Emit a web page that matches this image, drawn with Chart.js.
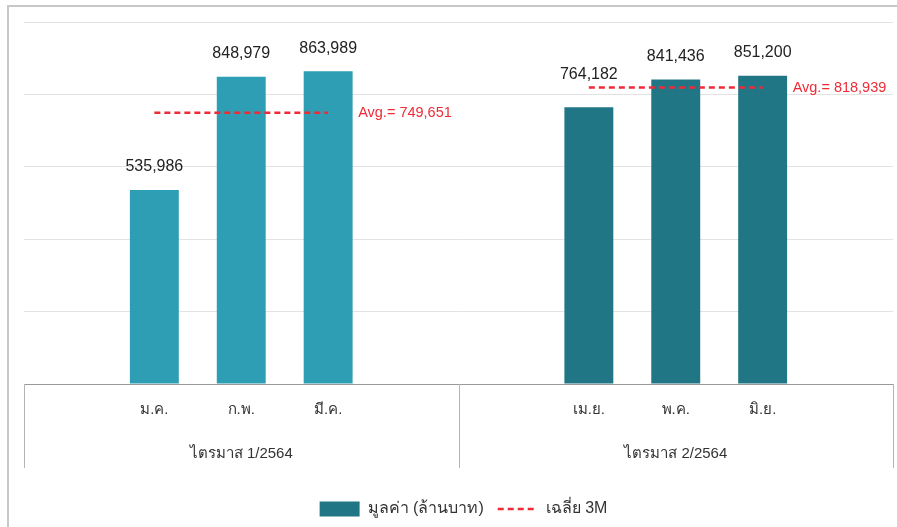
<!DOCTYPE html>
<html>
<head>
<meta charset="utf-8">
<script src="https://cdn.jsdelivr.net/npm/chart.js@4"></script>
<style>
  html, body { margin: 0; padding: 0; background: #fff; }
  #wrap { position: relative; width: 897px; height: 527px; overflow: hidden; }
  #frame { position: absolute; left: 7px; top: 5px; width: 1000px; height: 1000px;
           border-left: 2px solid #c8c8c8; border-top: 2px solid #c8c8c8; }
  canvas { position: absolute; left: 0; top: 0; }
</style>
</head>
<body>
<div id="wrap">
  <div id="frame"></div>
  <canvas id="c" width="897" height="527"></canvas>
</div>
<script>
// ---- data ----
const categories = ['', 'ม.ค.', 'ก.พ.', 'มี.ค.', '', '', 'เม.ย.', 'พ.ค.', 'มิ.ย.', ''];
const quarters = ['ไตรมาส 1/2564', 'ไตรมาส 2/2564'];
const values = [null, 535986, 848979, 863989, null, null, 764182, 841436, 851200, null];
const avgQ1 = [null, 749651, 749651, 749651, null, null, null, null, null, null];
const avgQ2 = [null, null, null, null, null, null, 818939, 818939, 818939, null];
const avgTexts = ['Avg.= 749,651', 'Avg.= 818,939'];
const seriesName = 'มูลค่า (ล้านบาท)';
const avgName = 'เฉลี่ย 3M';
const yTicks = [0, 200000, 400000, 600000, 800000, 1000000];

const colQ1 = '#2e9eb4';
const colQ2 = '#217686';
const red = '#ee2b36';
const barColors = categories.map((c, i) => i < 5 ? colQ1 : colQ2);

const FONT = '"Liberation Sans", Arial, sans-serif';

const labelsPlugin = {
  id: 'labels',
  afterLayout(chart) {
    if (chart.legend) { chart.legend.left += 5; chart.legend.right += 5; }
  },
  afterDatasetsDraw(chart) {
    const ctx = chart.ctx;
    ctx.save();
    const meta = chart.getDatasetMeta(0);
    const avgMetas = [chart.getDatasetMeta(1), chart.getDatasetMeta(2)];
    ctx.font = '16px ' + FONT;
    ctx.fillStyle = '#222';
    ctx.textAlign = 'center';
    ctx.textBaseline = 'middle';
    meta.data.forEach((bar, i) => {
      const v = values[i];
      if (v == null) return;
      let y = bar.y - 23;
      avgMetas.forEach(m => {
        const p = m.data[i];
        if (p && chart.data.datasets[m.index].data[i] != null) {
          if (Math.abs(y - p.y) < 13) y = p.y - 13;
        }
      });
      ctx.fillText(v.toLocaleString('en-US'), bar.x, y);
    });
    ctx.font = '14.5px ' + FONT;
    ctx.fillStyle = red;
    ctx.textAlign = 'left';
    [1, 2].forEach((di, k) => {
      const m = chart.getDatasetMeta(di);
      const data = chart.data.datasets[di].data;
      let last = -1;
      data.forEach((v, i) => { if (v != null) last = i; });
      const p = m.data[last];
      ctx.fillText(avgTexts[k], p.x + 30, p.y);
    });
    ctx.restore();
  },
  afterDraw(chart) {
    const ctx = chart.ctx;
    const x = chart.scales.x;
    const xs = [x.left, (x.getPixelForValue(4) + x.getPixelForValue(5)) / 2, x.right];
    ctx.save();
    ctx.strokeStyle = '#b4b4b4';
    ctx.lineWidth = 1;
    xs.forEach(px => {
      const xx = Math.round(px) + 0.5;
      ctx.beginPath();
      ctx.moveTo(xx, chart.chartArea.bottom);
      ctx.lineTo(xx, chart.chartArea.bottom + 84);
      ctx.stroke();
    });
    ctx.restore();
  }
};

new Chart(document.getElementById('c'), {
  data: {
    labels: categories,
    datasets: [
      {
        type: 'bar', label: seriesName, data: values,
        backgroundColor: barColors, categoryPercentage: 1, barPercentage: 0.563,
        order: 2
      },
      {
        type: 'line', label: avgName, data: avgQ1,
        borderColor: red, borderWidth: 2.5, borderDash: [6, 4], pointRadius: 0,
        fill: false, order: 1
      },
      {
        type: 'line', label: avgName + ' Q2', data: avgQ2,
        borderColor: red, borderWidth: 2.5, borderDash: [6, 4], pointRadius: 0,
        fill: false, order: 1
      }
    ]
  },
  options: {
    responsive: false,
    animation: false,
    devicePixelRatio: 1,
    layout: { padding: { left: 24, right: 4, top: 22, bottom: 0 } },
    plugins: {
      tooltip: { enabled: false },
      legend: {
        position: 'bottom',
        labels: {
          font: { size: 16, family: FONT },
          color: '#333',
          usePointStyle: true,
          pointStyleWidth: 40,
          boxHeight: 15,
          padding: 14,
          generateLabels() {
            return [
              { text: seriesName, fillStyle: colQ2, strokeStyle: colQ2, lineWidth: 0,
                pointStyle: 'rect', datasetIndex: 0, fontColor: '#333' },
              { text: avgName, fillStyle: red, strokeStyle: red, lineWidth: 2.5,
                lineDash: [6, 4], pointStyle: 'line', datasetIndex: 1, fontColor: '#333' }
            ];
          }
        }
      }
    },
    scales: {
      x: {
        weight: 0,
        offset: true,
        grid: { display: true, drawOnChartArea: false, drawTicks: false, color: 'rgba(0,0,0,0)' },
        border: { display: true, color: '#9a9a9a', width: 1 },
        ticks: { font: { size: 15, family: FONT }, color: '#333', padding: 17, autoSkip: false, maxRotation: 0 },
        afterFit(s) { s.height = 35; }
      },
      x2: {
        type: 'category',
        position: 'bottom',
        weight: 1,
        labels: quarters,
        offset: true,
        grid: { display: false, drawTicks: false },
        border: { display: false },
        ticks: { font: { size: 15, family: FONT }, color: '#333', padding: 26, maxRotation: 0 },
        afterFit(s) { s.height = 68; }
      },
      y: {
        min: 0, max: 1000000,
        afterBuildTicks(s) { s.ticks = yTicks.map(v => ({ value: v })); },
        ticks: { display: false },
        grid: { color: '#e2e2e2', drawTicks: false, lineWidth: 1 },
        border: { display: false }
      }
    }
  },
  plugins: [labelsPlugin]
});
</script>
</body>
</html>
